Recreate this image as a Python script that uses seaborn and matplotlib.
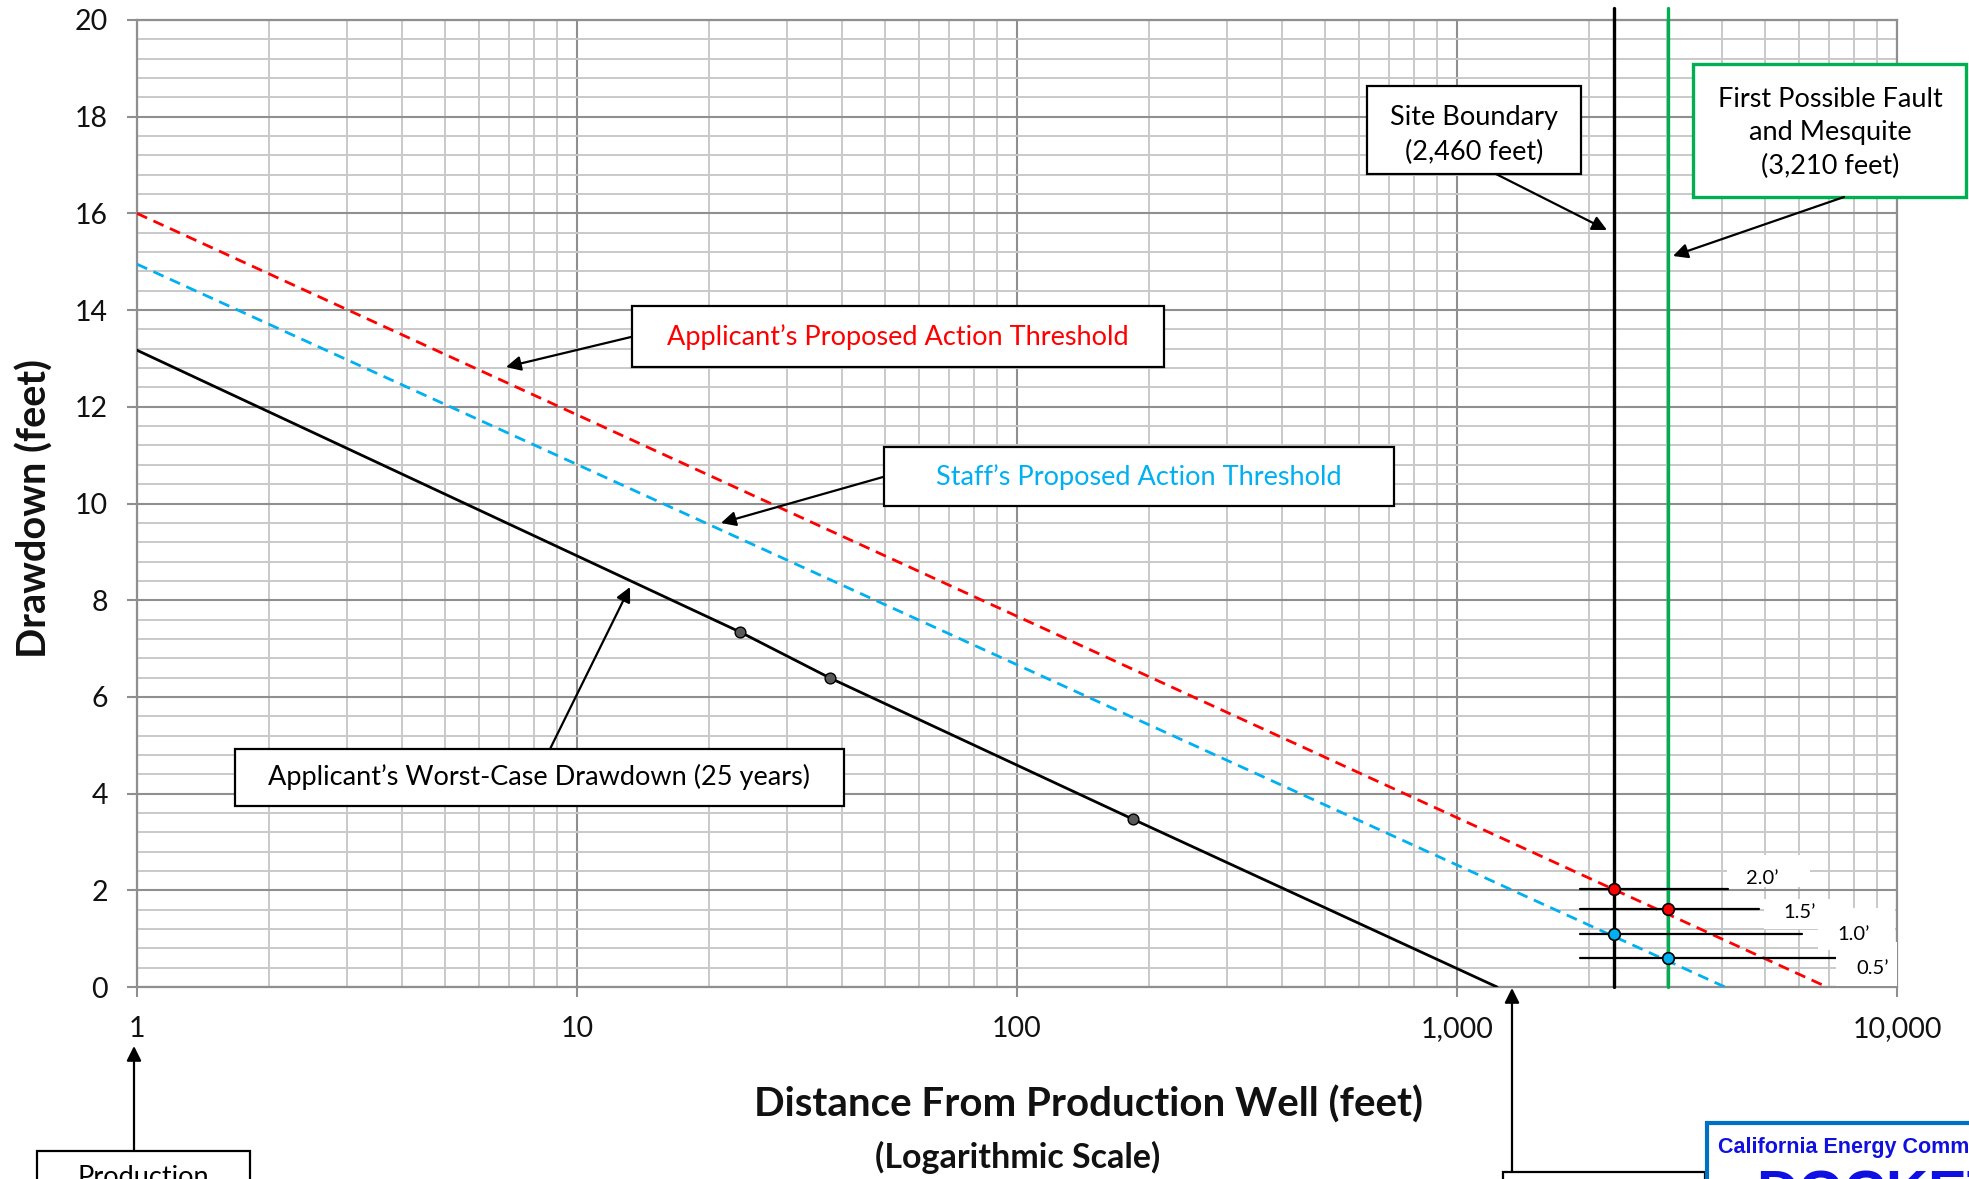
import numpy as np
import pandas as pd
import matplotlib
matplotlib.use("Agg")
import matplotlib.pyplot as plt
from matplotlib.patches import Rectangle, FancyArrowPatch
from matplotlib.ticker import LogLocator, MultipleLocator, FixedLocator, NullFormatter
import seaborn as sns

# ---------------- data ----------------
worst_x = [1, 23.5, 37.6, 183.5, 1233]
worst_y = [13.17, 7.34, 6.39, 3.47, 0.0]
worst_marker_x = [23.5, 37.6, 183.5]
worst_marker_y = [7.34, 6.39, 3.47]

applicant_x = [1, 6930]
applicant_y = [16.0, 0.0]
staff_x = [1, 4065]
staff_y = [14.95, 0.0]

site_boundary_x = 2275
fault_x = 3010

applicant_pts_x = [site_boundary_x, fault_x]
applicant_pts_y = [2.03, 1.61]
staff_pts_x = [site_boundary_x, fault_x]
staff_pts_y = [1.10, 0.60]

level_y = [2.03, 1.61, 1.10, 0.60]
level_labels = ["2.0\u2019", "1.5\u2019", "1.0\u2019", "0.5\u2019"]
level_start = 1905
level_end = [4130, 4860, 6080, 7270]

x_ticks = [1, 10, 100, 1000, 10000]
x_ticklabels = ["1", "10", "100", "1,000", "10,000"]
y_ticks = list(range(0, 21, 2))

# ---------------- style ----------------
W, H = 1969, 1179
sns.set_theme(style="white")
plt.rcParams["font.family"] = ["Lato", "DejaVu Sans"]

fig = plt.figure(figsize=(W / 100, H / 100), dpi=100)
L, R, T, B = 137, 1897, 20, 987
ax = fig.add_axes([L / W, 1 - B / H, (R - L) / W, (B - T) / H])

def fx(px):
    return px / W

def fy(py):
    return 1 - py / H

RED = "#ff0000"
BLUE = "#00b0f0"
GREEN = "#00b050"
BOX_FS = 19.5

df_worst = pd.DataFrame({"x": worst_x, "y": worst_y})
df_app = pd.DataFrame({"x": applicant_x, "y": applicant_y})
df_staff = pd.DataFrame({"x": staff_x, "y": staff_y})

sns.lineplot(data=df_app, x="x", y="y", ax=ax, color=RED, lw=2.0,
             linestyle=(0, (4, 2.5)), zorder=4)
sns.lineplot(data=df_staff, x="x", y="y", ax=ax, color=BLUE, lw=2.0,
             linestyle=(0, (4, 2.5)), zorder=4)
sns.lineplot(data=df_worst, x="x", y="y", ax=ax, color="black", lw=2.0, zorder=4)
sns.scatterplot(x=worst_marker_x, y=worst_marker_y, ax=ax, color="#5a5a5a",
                edgecolor="black", linewidth=1.0, s=60, zorder=6)

# vertical lines
ax.plot([site_boundary_x, site_boundary_x], [0, 20.25], color="black", lw=2.4,
        clip_on=False, zorder=5)
ax.plot([fault_x, fault_x], [0, 20.25], color=GREEN, lw=2.4, clip_on=False, zorder=5)

# horizontal threshold segments
for yv, xe in zip(level_y, level_end):
    ax.plot([level_start, xe], [yv, yv], color="black", lw=1.6, zorder=5)

sns.scatterplot(x=applicant_pts_x, y=applicant_pts_y, ax=ax, color=RED,
                edgecolor="black", linewidth=1.2, s=70, zorder=7)
sns.scatterplot(x=staff_pts_x, y=staff_pts_y, ax=ax, color=BLUE,
                edgecolor="black", linewidth=1.2, s=70, zorder=7)

# level labels with white backgrounds (figure pixel boxes: x, y_top, w, h)
label_pos = [(1762, 879), (1800, 912), (1854, 935), (1873, 968)]
label_bg = [(1727, 855, 83, 32), (1764, 899, 80, 30), (1818, 908, 77, 42), (1836, 942, 61, 44)]
for (bx, by, bw, bh) in label_bg:
    fig.add_artist(Rectangle((fx(bx), fy(by + bh)), bw / W, bh / H, transform=fig.transFigure,
                             facecolor="white", edgecolor="none", zorder=1))
for (px, py), lab in zip(label_pos, level_labels):
    fig.text(fx(px), fy(py), lab, ha="center", va="center", fontsize=14.5, color="black", zorder=3)

# axes formatting
ax.set_xscale("log")
ax.set_xlim(1, 10000)
ax.set_ylim(0, 20)
ax.xaxis.set_major_locator(FixedLocator(x_ticks))
ax.set_xticklabels(x_ticklabels)
ax.xaxis.set_minor_locator(LogLocator(base=10, subs=np.arange(2, 10)))
ax.xaxis.set_minor_formatter(NullFormatter())
ax.set_yticks(y_ticks)
ax.yaxis.set_minor_locator(MultipleLocator(0.4))
ax.grid(which="major", color="#8f8f8f", lw=1.5, zorder=0)
ax.grid(which="minor", color="#c9c9c9", lw=1.4, zorder=0)
ax.set_axisbelow(True)
ax.tick_params(which="major", length=7, width=1.5, color="#8f8f8f", labelsize=20.5,
               labelcolor="#111111", pad=14, direction="out")
ax.tick_params(which="minor", length=0)
ax.tick_params(axis="x", which="major", bottom=True)
ax.tick_params(axis="y", which="major", left=True)
for s in ax.spines.values():
    s.set_color("#8f8f8f")
    s.set_linewidth(1.6)
ax.set_xlabel("")
ax.set_ylabel("")

fig.text(fx(35), fy(509), "Drawdown (feet)", rotation=90, ha="center", va="center",
         fontsize=28.5, fontweight="bold", color="#111111")
fig.text(fx(1088), fy(1105), "Distance From Production Well (feet)", ha="center", va="center",
         fontsize=29, fontweight="bold", color="#111111")
fig.text(fx(1018), fy(1157), "(Logarithmic Scale)", ha="center", va="center",
         fontsize=24.5, fontweight="bold", color="#111111")

# ---------------- annotation boxes ----------------
def box(x0, y0, x1, y1, edge="black", lw=1.6, z=2):
    fig.add_artist(Rectangle((fx(x0), fy(y1)), (x1 - x0) / W, (y1 - y0) / H,
                             transform=fig.transFigure, facecolor="white",
                             edgecolor=edge, lw=lw, zorder=z))

def arrow(tail, head, z=2.5):
    fig.add_artist(FancyArrowPatch((fx(tail[0]), fy(tail[1])), (fx(head[0]), fy(head[1])),
                                   transform=fig.transFigure, arrowstyle="-|>",
                                   mutation_scale=22, color="black", lw=1.6,
                                   shrinkA=0, shrinkB=0, zorder=z))

# Applicant threshold
box(632, 306, 1164, 367)
fig.text(fx(898), fy(337), "Applicant\u2019s Proposed Action Threshold", ha="center",
         va="center", fontsize=BOX_FS, color=RED, zorder=3)
arrow((631, 337), (506, 367))

# Staff threshold
box(884, 447, 1394, 506)
fig.text(fx(1139), fy(477), "Staff\u2019s Proposed Action Threshold", ha="center",
         va="center", fontsize=BOX_FS, color=BLUE, zorder=3)
arrow((883, 477), (721, 523))

# Worst case
box(235, 749, 844, 806)
fig.text(fx(539), fy(777), "Applicant\u2019s Worst-Case Drawdown (25 years)", ha="center",
         va="center", fontsize=BOX_FS, color="black", zorder=3)
arrow((550, 749), (630, 587))

# Site boundary
box(1367, 86, 1581, 174)
fig.text(fx(1474), fy(135), "Site Boundary\n(2,460 feet)", ha="center", va="center",
         fontsize=BOX_FS, color="black", linespacing=1.45, zorder=3)
arrow((1496, 174), (1607, 230))

# Fault
box(1693, 64, 1966, 197, edge=GREEN, lw=2.4)
fig.text(fx(1830), fy(133), "First Possible Fault\nand Mesquite\n(3,210 feet)", ha="center",
         va="center", fontsize=BOX_FS, color="black", linespacing=1.4, zorder=3)
arrow((1844, 197), (1673, 256))

# Production (cut off at bottom)
box(37, 1151, 250, 1240)
fig.text(fx(143), fy(1165), "Production", ha="center", va="top", fontsize=BOX_FS,
         color="black", zorder=3)
arrow((134, 1151), (134, 1046))

# box near 1,000 (cut off)
box(1503, 1172, 1705, 1240)
arrow((1512, 1172), (1512, 988))

# docket stamp
fig.add_artist(Rectangle((fx(1707), fy(1240)), 400 / W, (1240 - 1123) / H,
                         transform=fig.transFigure, facecolor="white",
                         edgecolor="#0070c0", lw=3, zorder=4))
fig.text(fx(1718), fy(1147), "California Energy Commission", ha="left", va="center",
         fontsize=15.5, fontweight="bold", color="#1010e0",
         family=["Liberation Sans", "DejaVu Sans"], zorder=5)
fig.text(fx(1756), fy(1170), "DOCKETED", ha="left", va="top",
         fontsize=42, fontweight="bold", color="#1010e0",
         family=["Liberation Sans", "DejaVu Sans"], zorder=5)

fig.savefig("out.png", dpi=100)
